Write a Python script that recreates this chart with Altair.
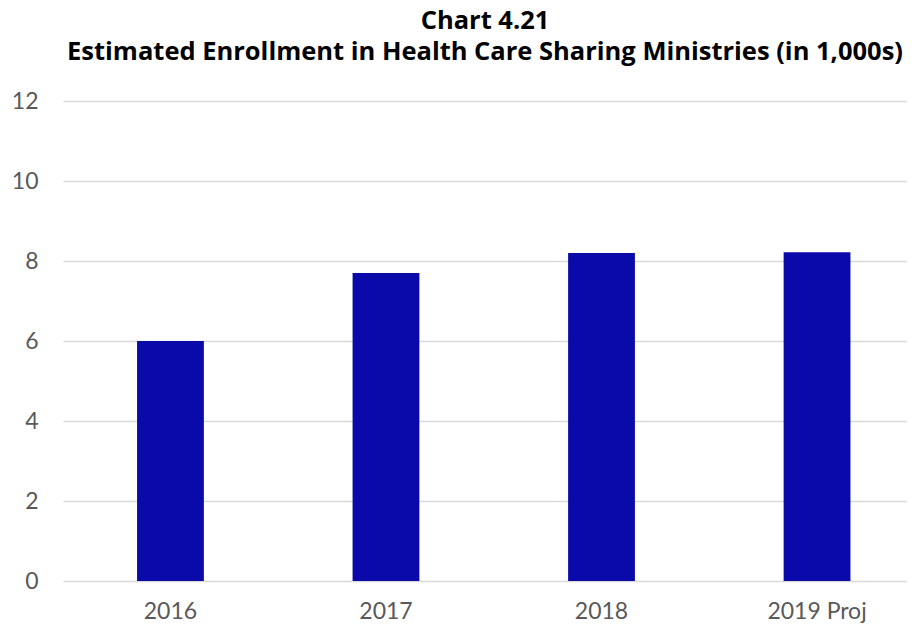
import altair as alt
import pandas as pd

years = ["2016", "2017", "2018", "2019 Proj"]
enrollment = [6.0, 7.7, 8.2, 8.22]

df = pd.DataFrame({"year": years, "value": enrollment})

chart = alt.Chart(df).mark_bar(color="#0A0AAB").encode(
    x=alt.X("year:N", sort=years, title=None,
            scale=alt.Scale(paddingInner=0.69, paddingOuter=0.303, align=0.567),
            axis=alt.Axis(labelAngle=0, labelFont="Lato", labelFontSize=23,
                          labelColor="#595959", ticks=False, domain=False,
                          labelPadding=19)),
    y=alt.Y("value:Q", title=None,
            scale=alt.Scale(domain=[0, 12]),
            axis=alt.Axis(values=[0, 2, 4, 6, 8, 10, 12], labelFont="Lato",
                          labelFontSize=23, labelColor="#595959", ticks=False,
                          domain=False, labelPadding=25, gridColor="#d9d9d9",
                          gridWidth=1.5)),
).properties(
    width=844,
    height=480,
    title=alt.Title(["Chart 4.21", "Estimated Enrollment in Health Care Sharing Ministries (in 1,000s)"],
                    font="Open Sans", fontSize=25.5, fontWeight="bold", color="#000000",
                    anchor="middle", offset=25, lineHeight=31),
    autosize=alt.AutoSizeParams(type="none"),
    padding={"left": 55, "top": 93, "right": 0, "bottom": 45},
).configure_view(stroke=None)

chart.save("out.html", embed_options={"renderer": "svg", "actions": False})
